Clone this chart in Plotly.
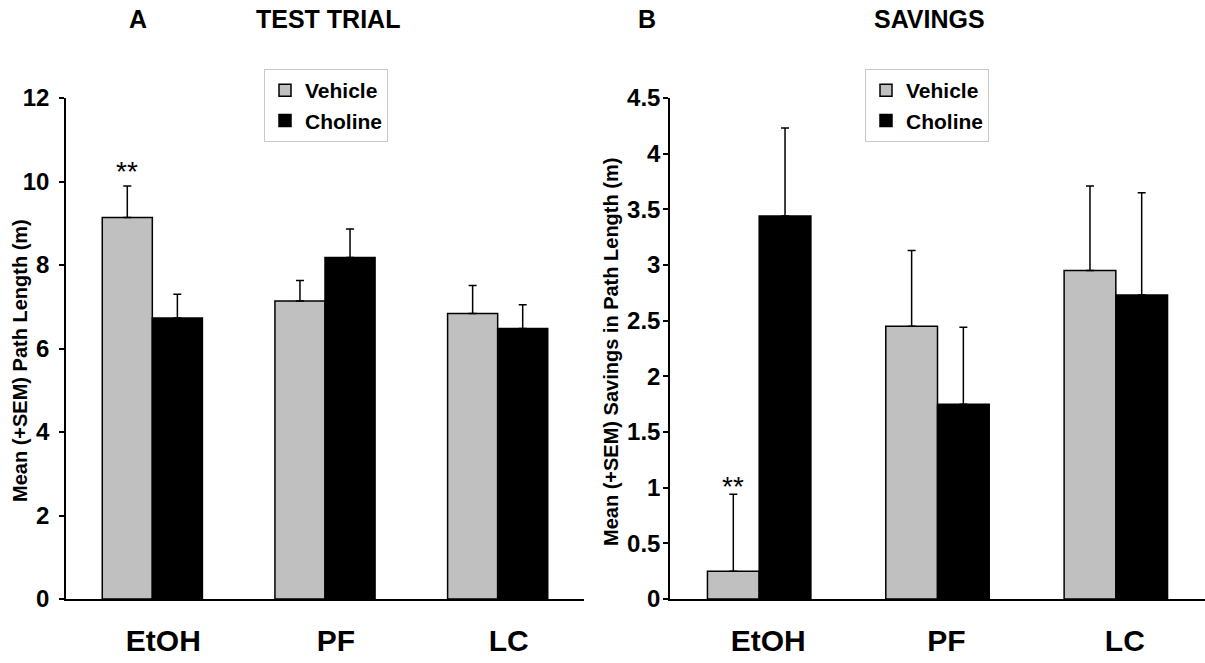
import plotly.graph_objects as go

# ---- data ----
categories = ["EtOH", "PF", "LC"]
a_vehicle = [9.14, 7.14, 6.84]
a_vehicle_sem = [0.75, 0.49, 0.67]
a_choline = [6.73, 8.18, 6.48]
a_choline_sem = [0.57, 0.68, 0.57]

b_vehicle = [0.25, 2.45, 2.95]
b_vehicle_sem = [0.69, 0.68, 0.76]
b_choline = [3.44, 1.75, 2.73]
b_choline_sem = [0.79, 0.69, 0.92]

a_yticks = [0, 2, 4, 6, 8, 10, 12]
a_yticklabels = ["0", "2", "4", "6", "8", "10", "12"]
b_yticks = [0, 0.5, 1, 1.5, 2, 2.5, 3, 3.5, 4, 4.5]
b_yticklabels = ["0", "0.5", "1", "1.5", "2", "2.5", "3", "3.5", "4", "4.5"]

W, H = 1205, 663
FONT = "Liberation Sans, Arial, Helvetica, sans-serif"
GRAY = "#c0c0c0"


def px_x(p):
    return p / W


def px_y(p):
    return (H - p) / H


def bar(name, y, sem, color, xa, ya, legend, show=True):
    return go.Bar(
        name=name, x=categories, y=y, xaxis=xa, yaxis=ya,
        marker=dict(color=color, line=dict(color="black", width=1.5)),
        error_y=dict(type="data", symmetric=False, array=sem,
                     arrayminus=[0] * len(sem), color="black",
                     thickness=1.5, width=4),
        legend=legend, legendgroup=name + legend, showlegend=show,
    )


fig = go.Figure()
fig.add_trace(bar("Vehicle", a_vehicle, a_vehicle_sem, GRAY, "x", "y", "legend"))
fig.add_trace(bar("Choline", a_choline, a_choline_sem, "black", "x", "y", "legend"))
fig.add_trace(bar("Vehicle", b_vehicle, b_vehicle_sem, GRAY, "x2", "y2", "legend2"))
fig.add_trace(bar("Choline", b_choline, b_choline_sem, "black", "x2", "y2", "legend2"))

ydom = [px_y(599), px_y(98)]
xcommon = dict(type="category", showline=True, linecolor="black", linewidth=1.5,
               ticks="", showgrid=False, zeroline=False, automargin=False,
               tickfont=dict(family=FONT, size=30, color="black", weight="bold"),
               ticklabelstandoff=14)
ycommon = dict(showline=True, linecolor="black", linewidth=1.5, ticks="outside",
               ticklen=5, tickwidth=1.5, tickcolor="black", showgrid=False,
               zeroline=False, automargin=False,
               tickfont=dict(family=FONT, size=24, color="black", weight="bold"))

legfont = dict(family=FONT, size=21, color="black", weight="bold")
fig.update_layout(
    width=W, height=H, margin=dict(l=0, r=0, t=0, b=0, autoexpand=False),
    paper_bgcolor="white", plot_bgcolor="white",
    barmode="group", bargap=0.42, bargroupgap=0,
    xaxis=dict(domain=[px_x(66), px_x(584)], anchor="y", ticklabelshift=11, **xcommon),
    yaxis=dict(domain=ydom, anchor="x", range=[0, 12], tickvals=a_yticks,
               ticktext=a_yticklabels, ticklabelstandoff=5, **ycommon),
    xaxis2=dict(domain=[px_x(670), 1.0], anchor="y2", ticklabelshift=9, **xcommon),
    yaxis2=dict(domain=ydom, anchor="x2", range=[0, 4.5], tickvals=b_yticks,
                ticktext=b_yticklabels, ticklabelstandoff=-2, **ycommon),
    legend=dict(x=px_x(264), y=px_y(69), xanchor="left", yanchor="top",
                bordercolor="#c8c8c8", borderwidth=1, bgcolor="white",
                font=legfont, tracegroupgap=8, traceorder="normal"),
    legend2=dict(x=px_x(865), y=px_y(69), xanchor="left", yanchor="top",
                 bordercolor="#c8c8c8", borderwidth=1, bgcolor="white",
                 font=legfont, tracegroupgap=8, traceorder="normal"),
)

bold = dict(family=FONT, color="black", weight="bold")
ann = [
    dict(text="A", x=px_x(138), y=px_y(19), size=25),
    dict(text="TEST TRIAL", x=px_x(328), y=px_y(19), size=25),
    dict(text="B", x=px_x(647), y=px_y(19), size=25),
    dict(text="SAVINGS", x=px_x(929), y=px_y(19), size=25),
]
for a in ann:
    fig.add_annotation(text=a["text"], x=a["x"], y=a["y"], xref="paper", yref="paper",
                       xanchor="center", yanchor="middle", showarrow=False,
                       font=dict(size=a["size"], **bold))

fig.add_annotation(text="Mean (+SEM) Path Length (m)", x=px_x(20), y=px_y(361),
                   xref="paper", yref="paper", textangle=-90, showarrow=False,
                   xanchor="center", yanchor="middle", font=dict(size=20, **bold))
fig.add_annotation(text="Mean (+SEM) Savings in Path Length (m)", x=px_x(611), y=px_y(352),
                   xref="paper", yref="paper", textangle=-90, showarrow=False,
                   xanchor="center", yanchor="middle", font=dict(size=20, **bold))

# significance markers above the vehicle EtOH bars
veh_offset = -0.145
fig.add_annotation(text="**", x=0 + veh_offset, y=a_vehicle[0] + a_vehicle_sem[0],
                   xref="x", yref="y", yanchor="middle", yshift=15, showarrow=False,
                   font=dict(family=FONT, size=28, color="black"))
fig.add_annotation(text="**", x=0 + veh_offset, y=b_vehicle[0] + b_vehicle_sem[0],
                   xref="x2", yref="y2", yanchor="middle", yshift=8, showarrow=False,
                   font=dict(family=FONT, size=28, color="black"))

fig.write_html("out.html", config={"displayModeBar": False},
               post_script="document.body.style.margin='0px';")
